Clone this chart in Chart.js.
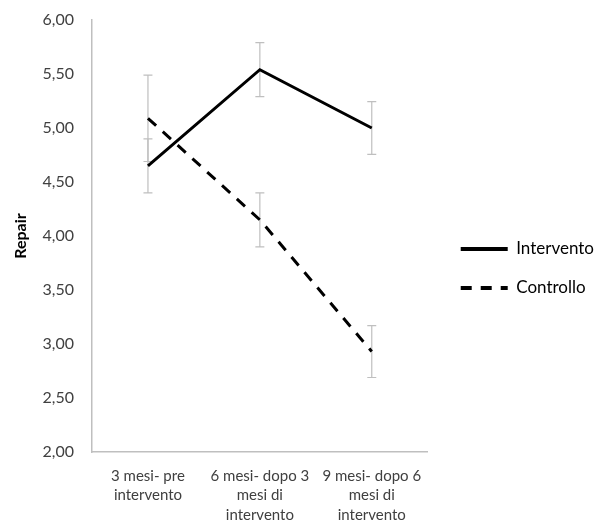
<!DOCTYPE html>
<html>
<head>
<meta charset="utf-8">
<script src="https://cdn.jsdelivr.net/npm/chart.js@4"></script>
<style>
  body { margin: 0; background: #fff; }
  #wrap { width: 600px; height: 524px; }
</style>
</head>
<body>
<div id="wrap"><canvas id="repairChart" width="600" height="524"></canvas></div>
<script>
const categories = [
  ["3 mesi- pre", "intervento"],
  ["6 mesi- dopo 3", "mesi di", "intervento"],
  ["9 mesi- dopo 6", "mesi di", "intervento"]
];
const intervento = [4.65, 5.54, 5.00];
const interventoErr = [0.25, 0.25, 0.245];
const controllo = [5.09, 4.15, 2.93];
const controlloErr = [0.40, 0.25, 0.24];
const yTicks = [2, 2.5, 3, 3.5, 4, 4.5, 5, 5.5, 6];

const FONT = "Lato, 'Open Sans', sans-serif";

// error bars drawn through the chart's own scales
const errorBars = {
  id: "errorBars",
  beforeDatasetsDraw(chart) {
    const ctx = chart.ctx;
    const x = chart.scales.x;
    const y = chart.scales.y;
    const errs = [interventoErr, controlloErr];
    ctx.save();
    ctx.strokeStyle = "#bfbfbf";
    ctx.lineWidth = 1.2;
    chart.data.datasets.forEach((ds, i) => {
      ds.data.forEach((v, j) => {
        const px = x.getPixelForValue(j);
        const top = y.getPixelForValue(v + errs[i][j]);
        const bot = y.getPixelForValue(v - errs[i][j]);
        ctx.beginPath();
        ctx.moveTo(px, top);
        ctx.lineTo(px, bot);
        ctx.moveTo(px - 4.5, top);
        ctx.lineTo(px + 4.5, top);
        ctx.moveTo(px - 4.5, bot);
        ctx.lineTo(px + 4.5, bot);
        ctx.stroke();
      });
    });
    ctx.restore();
  }
};

// shift the legend a little to sit where the original has it
const legendNudge = {
  id: "legendNudge",
  afterLayout(chart) {
    const lg = chart.legend;
    lg.left += 11;
    lg.right += 11;
    lg.top += 5;
    lg.bottom += 5;
  }
};

const ctx = document.getElementById("repairChart").getContext("2d");
new Chart(ctx, {
  type: "line",
  data: {
    labels: categories,
    datasets: [
      {
        label: "Intervento",
        data: intervento,
        borderColor: "#000",
        backgroundColor: "#000",
        borderWidth: 3,
        pointRadius: 0,
        tension: 0
      },
      {
        label: "Controllo",
        data: controllo,
        borderColor: "#000",
        backgroundColor: "#000",
        borderWidth: 3,
        borderDash: [11, 9],
        pointRadius: 0,
        tension: 0
      }
    ]
  },
  options: {
    responsive: false,
    animation: false,
    layout: { padding: { top: 3, right: 7, left: 7, bottom: 0 } },
    plugins: {
      tooltip: { enabled: false },
      legend: {
        position: "right",
        maxWidth: 200,
        labels: {
          usePointStyle: true,
          pointStyle: "line",
          pointStyleWidth: 47,
          boxHeight: 4,
          padding: 22,
          color: "#000",
          font: { family: FONT, size: 17 },
          generateLabels: (chart) =>
            Chart.defaults.plugins.legend.labels.generateLabels(chart).map((item) => {
              const ds = chart.data.datasets[item.datasetIndex];
              item.lineDash = ds.borderDash || [];
              item.lineWidth = 4;
              return item;
            })
        }
      }
    },
    scales: {
      x: {
        offset: true,
        afterFit: (scale) => { scale.height = 72; },
        grid: { display: false, drawTicks: false },
        border: { color: "#bfbfbf", width: 1.5 },
        ticks: {
          color: "#404040",
          maxRotation: 0,
          padding: 14,
          font: { family: FONT, size: 15, lineHeight: 1.3 }
        }
      },
      y: {
        min: 2,
        max: 6,
        afterBuildTicks: (axis) => { axis.ticks = yTicks.map((v) => ({ value: v })); },
        afterFit: (scale) => {
          scale.width = 85;
          scale.paddingTop = 20;
          scale.paddingBottom = 0;
        },
        grid: { display: false, drawTicks: false },
        border: { color: "#bfbfbf", width: 1.5 },
        title: {
          display: true,
          text: "Repair",
          color: "#000",
          font: { family: FONT, size: 16, weight: "bold" },
          padding: 4
        },
        ticks: {
          color: "#404040",
          padding: 18,
          font: { family: FONT, size: 16 },
          callback: (v) => Number(v).toFixed(2).replace(".", ",")
        }
      }
    }
  },
  plugins: [errorBars, legendNudge]
});
</script>
</body>
</html>
